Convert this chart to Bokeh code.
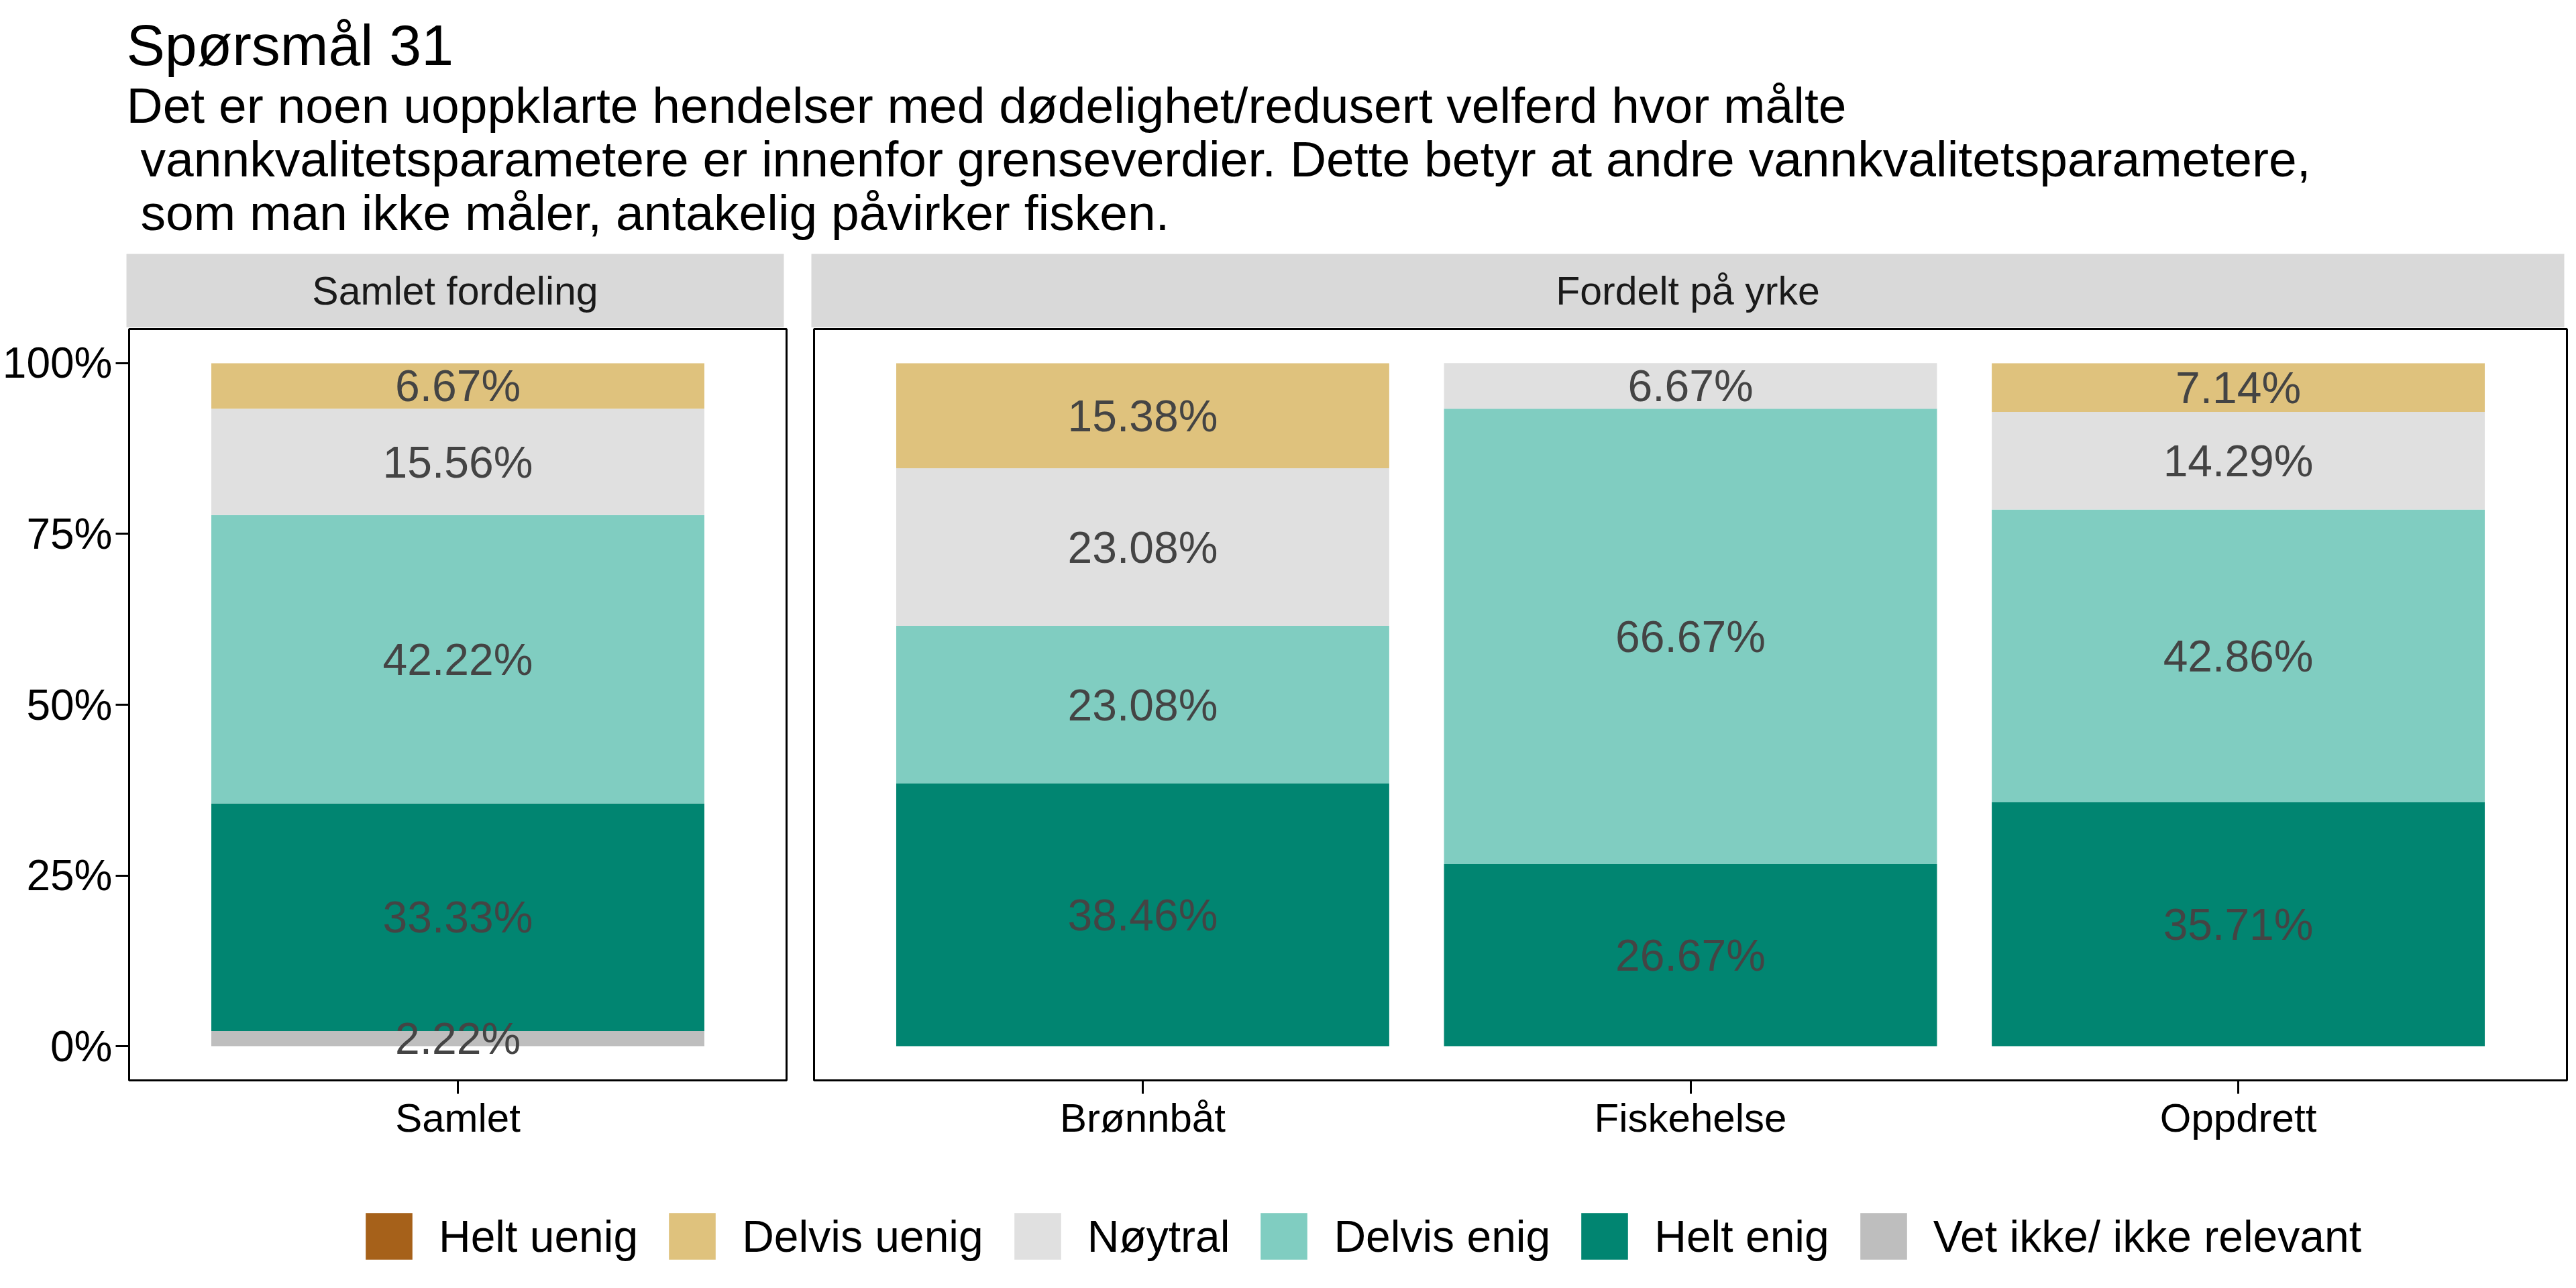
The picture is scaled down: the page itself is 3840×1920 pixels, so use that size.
from bokeh.plotting import figure
from bokeh.layouts import column, row
from bokeh.models import (ColumnDataSource, FactorRange, Range1d, FixedTicker,
                          NumeralTickFormatter, Label, Legend, LegendItem)
from bokeh.core.properties import value
from bokeh.embed import file_html
from bokeh.resources import INLINE

FONT = "Liberation Sans"

# ---------------- data ----------------
title_text = "Spørsmål 31"
subtitle_lines = [
    "Det er noen uoppklarte hendelser med dødelighet/redusert velferd hvor målte",
    "vannkvalitetsparametere er innenfor grenseverdier. Dette betyr at andre vannkvalitetsparametere,",
    "som man ikke måler, antakelig påvirker fisken.",
]
strip_labels = ["Samlet fordeling", "Fordelt på yrke"]

categories_samlet = ["Samlet"]
categories_yrke = ["Brønnbåt", "Fiskehelse", "Oppdrett"]

level_keys = ["helt_uenig", "delvis_uenig", "noytral", "delvis_enig", "helt_enig", "vet_ikke"]
level_labels = ["Helt uenig", "Delvis uenig", "Nøytral", "Delvis enig", "Helt enig",
                "Vet ikke/ ikke relevant"]
level_colors = ["#A6611A", "#DFC27D", "#E0E0E0", "#80CDC1", "#018571", "#BEBEBE"]

# percentages per level
samlet_helt_uenig = [0.0]
samlet_delvis_uenig = [6.67]
samlet_noytral = [15.56]
samlet_delvis_enig = [42.22]
samlet_helt_enig = [33.33]
samlet_vet_ikke = [2.22]

yrke_helt_uenig = [0.0, 0.0, 0.0]
yrke_delvis_uenig = [15.38, 0.0, 7.14]
yrke_noytral = [23.08, 6.67, 14.29]
yrke_delvis_enig = [23.08, 66.67, 42.86]
yrke_helt_enig = [38.46, 26.67, 35.71]
yrke_vet_ikke = [0.0, 0.0, 0.0]

y_ticks = [0, 0.25, 0.5, 0.75, 1.0]

# stacking order bottom -> top
stack_order = ["vet_ikke", "helt_enig", "delvis_enig", "noytral", "delvis_uenig", "helt_uenig"]
COLORS = dict(zip(level_keys, level_colors))

samlet_vals = dict(helt_uenig=samlet_helt_uenig, delvis_uenig=samlet_delvis_uenig,
                   noytral=samlet_noytral, delvis_enig=samlet_delvis_enig,
                   helt_enig=samlet_helt_enig, vet_ikke=samlet_vet_ikke)
yrke_vals = dict(helt_uenig=yrke_helt_uenig, delvis_uenig=yrke_delvis_uenig,
                 noytral=yrke_noytral, delvis_enig=yrke_delvis_enig,
                 helt_enig=yrke_helt_enig, vet_ikke=yrke_vet_ikke)

TOTAL_W = 3824
FRAME_H = 1120
P1_FRAME_W = 980
P2_FRAME_W = 2613
LEFT_W = 188


def make_panel(cats, vals, show_y, frame_w, mb_left, mb_right):
    rp = 0.2 / len(cats)
    p = figure(x_range=FactorRange(factors=cats, range_padding=rp, range_padding_units="percent"),
               y_range=Range1d(-0.05, 1.05),
               frame_width=frame_w, frame_height=FRAME_H,
               min_border_left=mb_left, min_border_right=mb_right,
               min_border_top=2, min_border_bottom=110,
               y_axis_location="left" if show_y else None,
               output_backend="svg", toolbar_location=None,
               background_fill_color="white", border_fill_color="white")
    p.grid.visible = False
    p.outline_line_color = "black"
    p.outline_line_width = 3

    data = dict(cat=cats)
    for k in stack_order:
        data[k] = [v / 100.0 for v in vals[k]]
    src = ColumnDataSource(data)
    p.vbar_stack(stack_order, x="cat", width=0.9, source=src,
                 fill_color=[COLORS[k] for k in stack_order], line_color=None)

    lx, ly, lt = [], [], []
    for i, c in enumerate(cats):
        cum = 0.0
        for k in stack_order:
            v = vals[k][i]
            if v > 0:
                lx.append(c)
                ly.append((cum + v / 2.0) / 100.0)
                lt.append(f"{v:.2f}%")
            cum += v
    lsrc = ColumnDataSource(dict(x=lx, y=ly, text=lt))
    p.text(x="x", y="y", text="text", source=lsrc, text_align="center",
           text_baseline="middle", text_font=value(FONT), text_font_size=value("66px"),
           text_color="#444444")

    ax = p.xaxis[0]
    ax.axis_line_color = None
    ax.major_tick_out = 20
    ax.major_tick_in = 0
    ax.major_tick_line_width = 3
    ax.major_tick_line_color = "black"
    ax.minor_tick_out = 0
    ax.minor_tick_in = 0
    ax.major_label_text_font = FONT
    ax.major_label_text_font_size = "60px"
    ax.major_label_text_color = "black"
    ax.major_label_standoff = 2

    if show_y:
        ay = p.yaxis[0]
        ay.ticker = FixedTicker(ticks=y_ticks)
        ay.formatter = NumeralTickFormatter(format="0%")
        ay.axis_line_color = None
        ay.major_tick_out = 20
        ay.major_tick_in = 0
        ay.major_tick_line_width = 3
        ay.major_tick_line_color = "black"
        ay.minor_tick_out = 0
        ay.minor_tick_in = 0
        ay.major_label_text_font = FONT
        ay.major_label_text_font_size = "64px"
        ay.major_label_text_color = "black"
        ay.major_label_standoff = 5
    return p


def make_strip(text, frame_w, mb_left, mb_right):
    s = figure(x_range=Range1d(0, 1), y_range=Range1d(0, 1),
               frame_width=frame_w, frame_height=110,
               min_border_left=mb_left, min_border_right=mb_right,
               min_border_top=0, min_border_bottom=0,
               x_axis_type=None, y_axis_type=None,
               output_backend="svg", toolbar_location=None,
               background_fill_color="#D9D9D9", border_fill_color="white",
               outline_line_color=None)
    s.add_layout(Label(x=0.5, y=0.5, text=text, text_align="center", text_baseline="middle",
                       text_font=FONT, text_font_size="59px", text_color="#1A1A1A"))
    return s


# header (title + subtitle); all borders zero; y measured from the top edge
HEADER_H = 378
header = figure(x_range=Range1d(0, TOTAL_W), y_range=Range1d(0, HEADER_H),
                frame_width=TOTAL_W, frame_height=HEADER_H,
                min_border_left=0, min_border_right=0, min_border_top=0,
                min_border_bottom=0, x_axis_type=None, y_axis_type=None,
                output_backend="svg", toolbar_location=None, outline_line_color=None,
                background_fill_color="white", border_fill_color="white")
header.add_layout(Label(x=188, y=HEADER_H - 66, text=title_text, text_align="left",
                        text_baseline="alphabetic", text_font=FONT,
                        text_font_size="86px", text_color="black"))
sub_x = [188, 209, 209]
sub_y = [156, 236, 316]
for t, xx, yy in zip(subtitle_lines, sub_x, sub_y):
    header.add_layout(Label(x=xx, y=HEADER_H - yy, text=t, text_align="left",
                            text_baseline="alphabetic", text_font=FONT,
                            text_font_size="75px", text_color="black"))

strip1 = make_strip(strip_labels[0], P1_FRAME_W, LEFT_W, 20)
strip2 = make_strip(strip_labels[1], P2_FRAME_W, 21, 2)

p1 = make_panel(categories_samlet, samlet_vals, True, P1_FRAME_W, LEFT_W, 20)
p2 = make_panel(categories_yrke, yrke_vals, False, P2_FRAME_W, 21, 2)

# legend (key glyphs come from renderers with a single empty (NaN) row); all borders zero
LEG_H = 182
nan = float("nan")
leg_fig = figure(x_range=Range1d(0, 1), y_range=Range1d(0, 1),
                 frame_width=TOTAL_W, frame_height=LEG_H,
                 min_border_left=0, min_border_right=0, min_border_top=0,
                 min_border_bottom=0, x_axis_type=None, y_axis_type=None,
                 output_backend="svg", toolbar_location=None, outline_line_color=None,
                 background_fill_color="white", border_fill_color="white")
items = []
for lab, col in zip(level_labels, level_colors):
    r = leg_fig.quad(left=[nan], right=[nan], top=[nan], bottom=[nan],
                     fill_color=col, line_color=None)
    items.append(LegendItem(label=value(lab), renderers=[r]))
legend = Legend(items=items, orientation="horizontal", location=(536, 16),
                glyph_width=87, glyph_height=87, label_standoff=31, spacing=37,
                padding=0, margin=0, border_line_color=None, background_fill_alpha=0,
                label_text_font=FONT, label_text_font_size="66px",
                label_text_color="black")
leg_fig.add_layout(legend, "center")

layout = column(header, row(strip1, strip2), row(p1, p2), leg_fig)

open("out.html", "w").write(file_html(layout, INLINE))
